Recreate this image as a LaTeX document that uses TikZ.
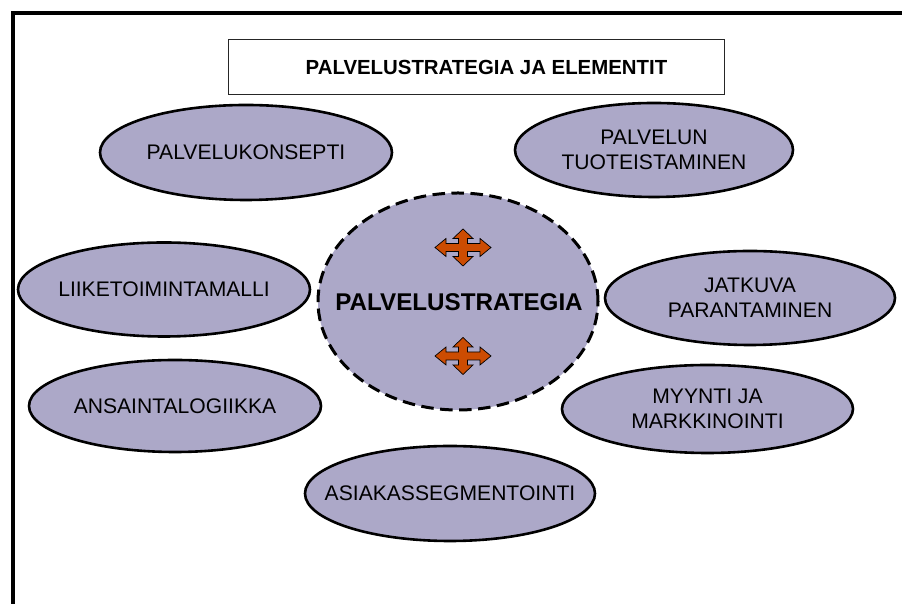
\documentclass[tikz,border=0pt]{standalone}
\usepackage{fontspec}
\setmainfont{Liberation Sans}
\usetikzlibrary{shapes.geometric}

\definecolor{bubblefill}{RGB}{172,168,200}
\definecolor{arrowfill}{RGB}{204,76,2}

\tikzset{
  bubble/.style={ellipse, draw=black, line width=2.6pt, fill=bubblefill,
    inner sep=0pt},
  bubbletext/.style={align=center, inner sep=0pt,
    font=\fontsize{21.1}{24.8}\selectfont},
  core/.style={ellipse, draw=black, line width=3pt, fill=bubblefill,
    dash pattern=on 12.5pt off 6.5pt, inner sep=0pt,
    minimum width=280pt, minimum height=217pt},
  titlebox/.style={draw=black!85, line width=1pt, fill=white,
    minimum width=496pt, minimum height=55pt, inner sep=0pt},
  titletext/.style={inner sep=0pt, font=\bfseries\fontsize{20.4}{24}\selectfont},
  movearrow/.pic={
    \draw[fill=arrowfill, line width=0.7pt, line join=miter]
      (28,0) -- (17,9) -- (17,4) -- (4.5,4) -- (4.5,9) -- (10,9)
      -- (0,18.5) -- (-10,9) -- (-4.5,9) -- (-4.5,4) -- (-17,4)
      -- (-17,9) -- (-28,0) -- (-17,-9) -- (-17,-4) -- (-4.5,-4)
      -- (-4.5,-9) -- (-10,-9) -- (0,-18.5) -- (10,-9) -- (4.5,-9)
      -- (4.5,-4) -- (17,-4) -- (17,-9) -- cycle;
  }
}

\begin{document}
\begin{tikzpicture}[x=1pt, y=1pt]
  \useasboundingbox (0,0) rectangle (902,604);
  \fill[white] (0,0) rectangle (902,604);

  % outer frame, running off the right and bottom edges
  \begin{scope}
    \clip (0,0) rectangle (902,604);
    \draw[line width=4pt, line join=miter] (13,-20) -- (13,591) -- (930,591);
  \end{scope}

  % heading
  \node[titlebox] (title) at (476,536.5) {};
  \node[titletext] (titlelabel) at (486.5,536.5) {PALVELUSTRATEGIA JA ELEMENTIT};

  % surrounding elements: outline first, caption on top
  \node[bubble, minimum width=292pt, minimum height=95pt] (konsepti) at (246,451.5) {};
  \node[bubbletext] (konseptitext) at (konsepti.center) {PALVELUKONSEPTI};

  \node[bubble, minimum width=278pt, minimum height=94pt] (tuotteistaminen) at (654,454) {};
  \node[bubbletext] (tuotteistaminentext) at (tuotteistaminen.center) {PALVELUN\\TUOTEISTAMINEN};

  \node[bubble, minimum width=292pt, minimum height=94pt] (liiketoiminta) at (164,314.5) {};
  \node[bubbletext] (liiketoimintatext) at (liiketoiminta.center) {LIIKETOIMINTAMALLI};

  \node[bubble, minimum width=290pt, minimum height=94pt] (parantaminen) at (750,306) {};
  \node[bubbletext] (parantaminentext) at (parantaminen.center) {JATKUVA\\PARANTAMINEN};

  \node[bubble, minimum width=292pt, minimum height=92pt] (ansainta) at (175,198) {};
  \node[bubbletext] (ansaintatext) at (ansainta.center) {ANSAINTALOGIIKKA};

  \node[bubble, minimum width=291pt, minimum height=88pt] (myynti) at (707.5,195) {};
  \node[bubbletext] (myyntitext) at (myynti.center) {MYYNTI JA\\MARKKINOINTI};

  \node[bubble, minimum width=290pt, minimum height=95pt] (segmentointi) at (450,110.5) {};
  \node[bubbletext] (segmentointitext) at (segmentointi.center) {ASIAKASSEGMENTOINTI};

  % central strategy
  \node[core] (strategia) at (458,302.5) {};
  \node[font=\bfseries\fontsize{24.2}{28}\selectfont, inner sep=0pt] (strategiatext)
    at (459,302) {PALVELUSTRATEGIA};
  \pic at (463,356.5) {movearrow};
  \pic at (463,248) {movearrow};
\end{tikzpicture}
\end{document}
